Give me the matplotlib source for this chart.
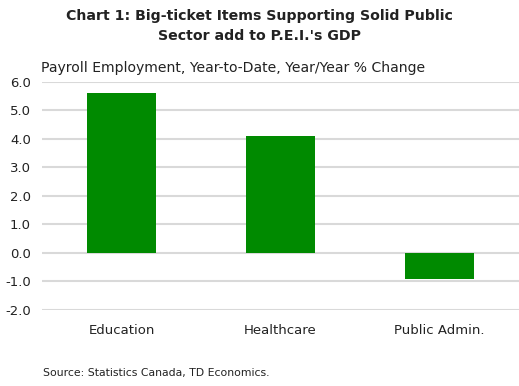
import numpy as np
import matplotlib
matplotlib.use("Agg")
import matplotlib.pyplot as plt

plt.rcParams['font.family'] = ['DejaVu Sans']

# data
categories = ["Education", "Healthcare", "Public Admin."]
values = [5.6, 4.1, -0.9]
yticks = [6.0, 5.0, 4.0, 3.0, 2.0, 1.0, 0.0, -1.0, -2.0]

fig = plt.figure(figsize=(5.19, 3.86), dpi=100)
ax = fig.add_axes([0.081, 0.197, 0.919, 0.591])

x = np.arange(len(categories))
ax.bar(x, values, width=0.43, color="#008a00", zorder=3)

ax.set_xlim(-0.5, len(categories) - 0.5)
ax.set_ylim(-2.0, 6.0)
ax.set_yticks(yticks)
ax.set_yticklabels(["%.1f" % v for v in yticks])
ax.set_xticks(x)
ax.set_xticklabels(categories)
ax.grid(axis="y", color="#d9d9d9", linewidth=1.5, zorder=0)
ax.tick_params(length=0, labelsize=9.5, colors="#222222", pad=10)
ax.tick_params(axis="y", pad=8)
for s in ax.spines.values():
    s.set_visible(False)

fig.text(0.5, 0.932, "Chart 1: Big-ticket Items Supporting Solid Public\nSector add to P.E.I.'s GDP",
         ha="center", va="center", fontsize=10.2, fontweight="bold", color="#222222", linespacing=1.5)
fig.text(0.079, 0.823, "Payroll Employment, Year-to-Date, Year/Year % Change",
         ha="left", va="center", fontsize=10.1, color="#222222")
fig.text(0.083, 0.033, "Source: Statistics Canada, TD Economics.",
         ha="left", va="center", fontsize=7.8, color="#222222")

fig.savefig("out.png", dpi=100)
